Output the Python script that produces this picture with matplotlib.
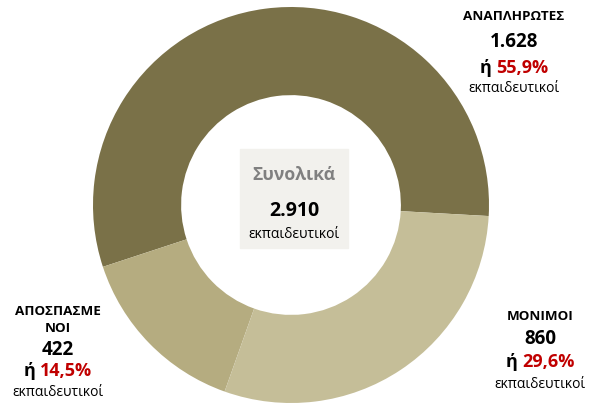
import numpy as np
import matplotlib.pyplot as plt

plt.rcParams['font.family'] = ['Open Sans', 'DejaVu Sans']

# data
labels = ['ΑΝΑΠΛΗΡΩΤΕΣ', 'ΑΠΟΣΠΑΣΜΕ\nΝΟΙ', 'ΜΟΝΙΜΟΙ']
values = [1628, 422, 860]
value_txt = ['1.628', '422', '860']
pct_txt = ['55,9%', '14,5%', '29,6%']
colors = ['#7a7148', '#b5ac80', '#c5be98']
total_txt = '2.910'

W, H = 592, 403
fig = plt.figure(figsize=(W / 100, H / 100), dpi=100)
ax = fig.add_axes([0, 0, 1, 1])

# donut (pixel coords, y up)
cx, cy, r = 291, H - 205, 198
ax.pie(values, colors=colors, startangle=-3.2, counterclock=True,
       center=(cx, cy), radius=r, frame=True,
       wedgeprops=dict(width=r * 0.445, linewidth=0))
ax.set_xlim(0, W)
ax.set_ylim(0, H)
ax.set_aspect('equal')
ax.axis('off')

# center box
ax.add_patch(plt.Rectangle((240, H - 248), 108, 99, color='#f2f1ed', zorder=3))
ax.text(294, H - 175, 'Συνολικά', ha='center', va='center', fontsize=12.7,
        fontweight='bold', color='#808080', zorder=4)
ax.text(294, H - 211, total_txt, ha='center', va='center', fontsize=14,
        fontweight='bold', color='black', zorder=4)
ax.text(294, H - 234, 'εκπαιδευτικοί', ha='center', va='center', fontsize=10,
        color='black', zorder=4)

# slice labels: (x, y of name, y of value, y of pct, y of word)
pos = [(514, 17, 42, 68, 89),
       (58, 320, 350, 371, 393),
       (540, 316, 339, 362, 385)]

renderer = fig.canvas.get_renderer()
for i, (x, y1, y2, y3, y4) in enumerate(pos):
    ax.text(x, H - y1, labels[i], ha='center', va='center', fontsize=9.7,
            fontweight='bold', color='black', linespacing=1.4)
    ax.text(x, H - y2, value_txt[i], ha='center', va='center', fontsize=13.5,
            fontweight='bold', color='black')
    # "ή " black + percentage red, centred together
    t1 = ax.text(0, H - y3, 'ή ', ha='left', va='center', fontsize=13,
                 fontweight='bold', color='black')
    t2 = ax.text(0, H - y3, pct_txt[i], ha='left', va='center', fontsize=13,
                 fontweight='bold', color='#c00000')
    w1 = t1.get_window_extent(renderer).width
    w2 = t2.get_window_extent(renderer).width
    x0 = x - (w1 + w2) / 2
    t1.set_x(x0)
    t2.set_x(x0 + w1)
    ax.text(x, H - y4, 'εκπαιδευτικοί', ha='center', va='center', fontsize=10,
            color='black')

fig.savefig('out.png', dpi=100)
